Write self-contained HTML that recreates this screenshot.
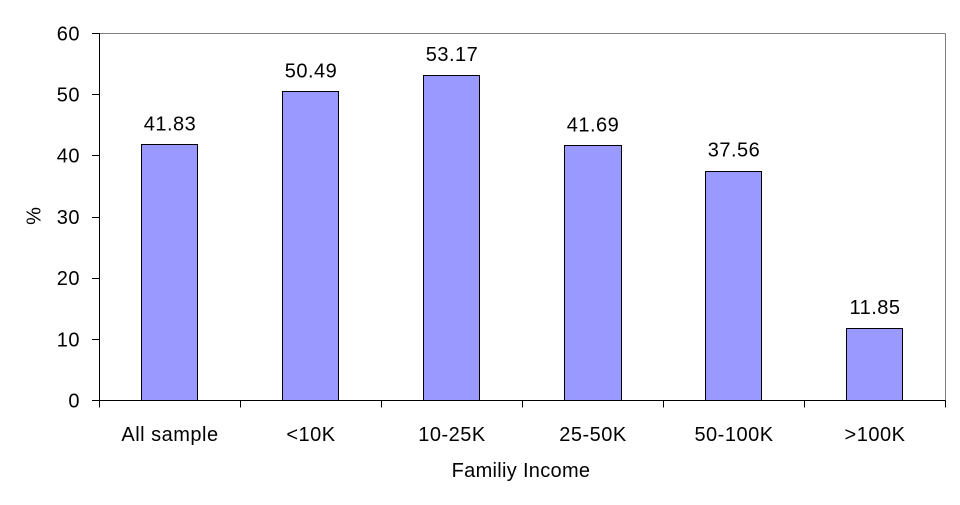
<!DOCTYPE html>
<html>
<head>
<meta charset="utf-8">
<style>
  html, body { margin: 0; padding: 0; background: #ffffff; }
  svg { display: block; }
  text { font-family: "Liberation Sans", Arial, sans-serif; font-size: 20px; fill: #000; }
</style>
</head>
<body>
<svg width="960" height="505" viewBox="0 0 960 505" xmlns="http://www.w3.org/2000/svg">
  <rect x="0" y="0" width="960" height="505" fill="#ffffff"/>

  <!-- plot frame: top and right gray -->
  <line x1="99.5" y1="33.5" x2="945.5" y2="33.5" stroke="#808080" stroke-width="1"/>
  <line x1="945.5" y1="33.5" x2="945.5" y2="400.5" stroke="#808080" stroke-width="1"/>

  <!-- bars -->
  <g fill="#9999FF" stroke="#000" stroke-width="1">
    <rect x="141.5" y="144.5" width="56" height="256"/>
    <rect x="282.5" y="91.5" width="56" height="309"/>
    <rect x="423.5" y="75.5" width="56" height="325"/>
    <rect x="564.5" y="145.5" width="57" height="255"/>
    <rect x="705.5" y="171.5" width="56" height="229"/>
    <rect x="846.5" y="328.5" width="56" height="72"/>
  </g>

  <!-- value labels -->
  <g text-anchor="middle" letter-spacing="0.5">
    <text x="170" y="130.5">41.83</text>
    <text x="311" y="77.5">50.49</text>
    <text x="452" y="61">53.17</text>
    <text x="593" y="131.5">41.69</text>
    <text x="734" y="156.5">37.56</text>
    <text x="875" y="314">11.85</text>
  </g>

  <!-- axes -->
  <line x1="99.5" y1="33.5" x2="99.5" y2="400.5" stroke="#000" stroke-width="1"/>
  <line x1="99.5" y1="400.5" x2="945.5" y2="400.5" stroke="#000" stroke-width="1"/>

  <!-- y ticks -->
  <g stroke="#000" stroke-width="1">
    <line x1="92" y1="33.5" x2="99.5" y2="33.5"/>
    <line x1="92" y1="94.5" x2="99.5" y2="94.5"/>
    <line x1="92" y1="155.5" x2="99.5" y2="155.5"/>
    <line x1="92" y1="217.5" x2="99.5" y2="217.5"/>
    <line x1="92" y1="278.5" x2="99.5" y2="278.5"/>
    <line x1="92" y1="339.5" x2="99.5" y2="339.5"/>
    <line x1="92" y1="400.5" x2="99.5" y2="400.5"/>
  </g>
  <g text-anchor="end" letter-spacing="0.5">
    <text x="80" y="40.5">60</text>
    <text x="80" y="101.5">50</text>
    <text x="80" y="162.5">40</text>
    <text x="80" y="224">30</text>
    <text x="80" y="285">20</text>
    <text x="80" y="346.5">10</text>
    <text x="80" y="407.5">0</text>
  </g>

  <!-- x ticks -->
  <g stroke="#000" stroke-width="1">
    <line x1="99.5" y1="400.5" x2="99.5" y2="407.5"/>
    <line x1="240.5" y1="400.5" x2="240.5" y2="407.5"/>
    <line x1="381.5" y1="400.5" x2="381.5" y2="407.5"/>
    <line x1="522.5" y1="400.5" x2="522.5" y2="407.5"/>
    <line x1="663.5" y1="400.5" x2="663.5" y2="407.5"/>
    <line x1="804.5" y1="400.5" x2="804.5" y2="407.5"/>
    <line x1="945.5" y1="400.5" x2="945.5" y2="407.5"/>
  </g>
  <g text-anchor="middle" letter-spacing="0.5">
    <text x="170" y="441">All sample</text>
    <text x="311" y="441">&lt;10K</text>
    <text x="452" y="441">10-25K</text>
    <text x="593" y="441">25-50K</text>
    <text x="734" y="441">50-100K</text>
    <text x="875" y="441">&gt;100K</text>
  </g>

  <!-- axis titles -->
  <text x="521" y="477" text-anchor="middle" letter-spacing="0.3">Familiy Income</text>
  <text x="0" y="0" text-anchor="middle" transform="translate(40.5,216) rotate(-90)">%</text>
</svg>
</body>
</html>
